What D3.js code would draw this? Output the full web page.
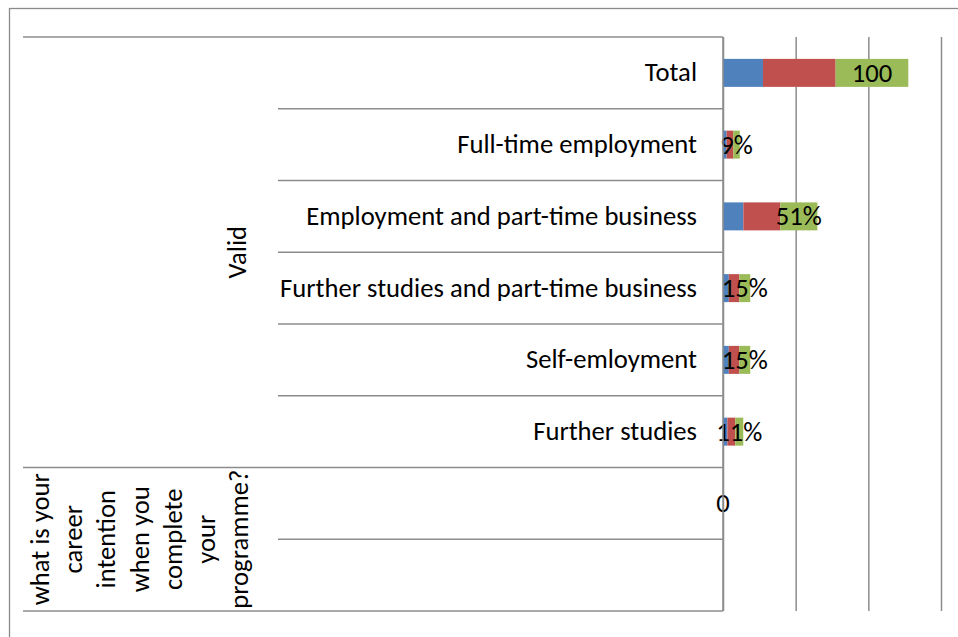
<!DOCTYPE html>
<html><head><meta charset="utf-8">
<script src="https://cdn.jsdelivr.net/npm/d3@7"></script>
<style>
  body { margin: 0; background: #fff; }
  text { font-family: Carlito, Calibri, "Liberation Sans", sans-serif; fill: #000; }
</style>
</head><body>
<svg id="chart" width="958" height="637"></svg>
<script>
// Career intention responses (frequency table shown as stacked bars)
const categories = ["Total", "Full-time employment", "Employment and part-time business",
  "Further studies and part-time business", "Self-emloyment", "Further studies", "", ""];
const frequency    = [55, 5, 28, 8, 8, 6, null, null];
const percent      = [100, 9.1, 50.9, 14.5, 14.5, 10.9, null, null];
const validPercent = [100, 9, 51, 15, 15, 11, 0, null];
const validLabels  = ["100", "9%", "51%", "15%", "15%", "11%", "0", ""];
const groupLabel   = "Valid";
const questionLines = ["what is your", "career", "intention", "when you", "complete", "your", "programme?"];
const xTicks = [0, 100, 200, 300];

const seriesNames  = ["Frequency", "Percent", "Valid Percent"];
const seriesColors = ["#4F81BD", "#C0504D", "#9BBB59"];

const svg = d3.select("#chart");
const fontSize = 26.65;
const lineColor = "#8c8c8c";

// outer chart frame (runs past the right and bottom edges)
svg.append("rect")
  .attr("x", 9.5).attr("y", 8.5).attr("width", 1000).attr("height", 700)
  .attr("fill", "none").attr("stroke", "#8a8a8a").attr("stroke-width", 1.3);

const plot = { left: 723, right: 941, top: 37, bottom: 611 };

const rowKeys = categories.map((c, i) => i);
const y = d3.scaleBand().domain(rowKeys).range([plot.top, plot.bottom])
  .paddingInner(0.61).paddingOuter(0.305);
const x = d3.scaleLinear().domain([0, 300]).range([plot.left, plot.right]);

// vertical gridlines
const grid = svg.append("g").attr("transform", `translate(0,${plot.bottom})`)
  .call(d3.axisBottom(x).tickValues(xTicks).tickSize(-(plot.bottom - plot.top)).tickFormat(""));
grid.select(".domain").remove();
grid.selectAll(".tick line").attr("stroke", lineColor).attr("stroke-width", 1.5);

// stacked bars
const rows = categories.map((c, i) => ({
  key: i,
  "Frequency": frequency[i] || 0,
  "Percent": percent[i] || 0,
  "Valid Percent": validPercent[i] || 0
}));
const stacked = d3.stack().keys(seriesNames)(rows);

svg.append("g").selectAll("g").data(stacked).join("g")
  .attr("fill", (d, i) => seriesColors[i])
  .selectAll("rect").data(d => d).join("rect")
  .attr("x", d => x(d[0]))
  .attr("y", d => y(d.data.key))
  .attr("width", d => Math.max(0, x(d[1]) - x(d[0])))
  .attr("height", y.bandwidth());

// data labels on the Valid Percent segments
const lastSeries = stacked[2];
svg.append("g").selectAll("text").data(lastSeries.filter((d, i) => validLabels[i] !== "")).join("text")
  .attr("x", d => (x(d[0]) + x(d[1])) / 2)
  .attr("y", d => y(d.data.key) + y.bandwidth() / 2)
  .attr("dy", "0.34em")
  .attr("text-anchor", "middle")
  .style("font-size", fontSize + "px")
  .text(d => validLabels[d.data.key]);

// category axis: innermost labels
const step = y.step();
const yAxis = svg.append("g").attr("transform", `translate(${plot.left},0)`)
  .call(d3.axisLeft(y).tickSize(0).tickPadding(26).tickFormat(i => categories[i]));
yAxis.select(".domain").attr("stroke", lineColor).attr("stroke-width", 1.5)
  .attr("d", `M0,${plot.top}V${plot.bottom}`);
yAxis.selectAll(".tick text").style("font-size", fontSize + "px").attr("dy", "0.32em")
  .style("font-family", "Carlito, Calibri, sans-serif");

// separators between categories
const bounds = d3.range(categories.length + 1).map(i => plot.top + i * step);
const innerLeft = 278, outerLeft = 23;
const outerBounds = [0, 6, 8];
svg.append("g").selectAll("line").data(bounds.map((b, i) => ({ b, i }))).join("line")
  .attr("x1", d => outerBounds.includes(d.i) ? outerLeft : innerLeft)
  .attr("x2", plot.left)
  .attr("y1", d => d.b).attr("y2", d => d.b)
  .attr("stroke", lineColor).attr("stroke-width", 1.5);

// group label
const validMid = (bounds[0] + bounds[6]) / 2;
svg.append("text")
  .attr("transform", `translate(237,${validMid}) rotate(-90)`)
  .attr("text-anchor", "middle").attr("dy", "0.32em")
  .style("font-size", fontSize + "px")
  .text(groupLabel);

// outer question label, wrapped and rotated
const qMid = (bounds[6] + bounds[8]) / 2;
const lineGap = 33.3;
const q = svg.append("text")
  .attr("transform", `translate(${140 - lineGap * (questionLines.length - 1) / 2},${qMid}) rotate(-90)`)
  .attr("text-anchor", "middle")
  .style("font-size", fontSize + "px");
q.selectAll("tspan").data(questionLines).join("tspan")
  .attr("x", 0)
  .attr("y", (d, i) => i * lineGap)
  .attr("dy", "0.32em")
  .text(d => d);
</script></body></html>
